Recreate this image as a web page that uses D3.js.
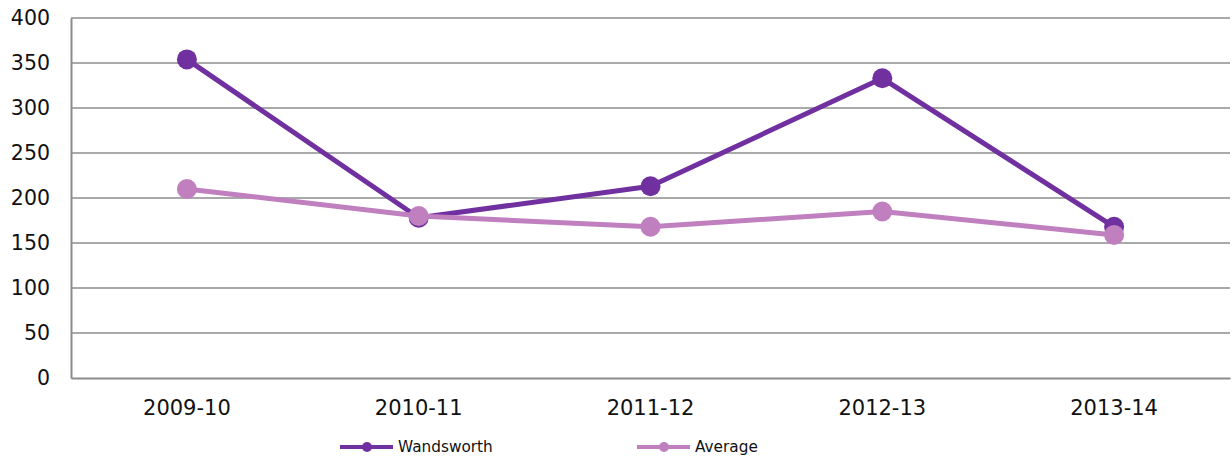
<!DOCTYPE html>
<html><head><meta charset="utf-8">
<script src="https://cdn.jsdelivr.net/npm/d3@7"></script>
<style>body{margin:0;background:#fff}svg{display:block;font-family:"DejaVu Sans",Verdana,sans-serif}</style>
</head><body><svg id="c" width="1232" height="458"></svg>
<script>
const categories = ["2009-10","2010-11","2011-12","2012-13","2013-14"];
const wandsworth = [354, 178, 213, 333, 168];
const average = [210, 180, 168, 185, 159];
const yTicks = [0,50,100,150,200,250,300,350,400];
const seriesNames = ["Wandsworth","Average"];
const colors = ["#7030a0","#c080c0"];

(function(){
const svg = d3.select("#c");
const mLeft = 71, mRight = 1230, mTop = 18, mBottom = 378;
const x = d3.scaleBand().domain(categories).range([mLeft, mRight]);
const y = d3.scaleLinear().domain([0,400]).range([mBottom, mTop]);

svg.append("g").selectAll("line").data(yTicks.filter(d=>d>0)).join("line")
  .attr("x1", mLeft).attr("x2", mRight)
  .attr("y1", d=>y(d)).attr("y2", d=>y(d))
  .attr("stroke", "#8c8c8c").attr("stroke-width", 1.5);

const ya = svg.append("g").attr("transform", `translate(${mLeft},0)`)
  .call(d3.axisLeft(y).tickValues(yTicks).tickSize(0).tickPadding(21));
ya.select(".domain").attr("stroke","#8c8c8c").attr("stroke-width",2);
ya.selectAll("text").attr("font-size", 20.5).attr("fill","#111").attr("font-family","DejaVu Sans, Verdana, sans-serif");

const xa = svg.append("g").attr("transform", `translate(0,${mBottom})`)
  .call(d3.axisBottom(x).tickSize(0).tickPadding(22));
xa.select(".domain").attr("stroke","#8c8c8c").attr("stroke-width",2);
xa.selectAll("text").attr("font-size", 21).attr("fill","#111").attr("font-family","DejaVu Sans, Verdana, sans-serif");

const data = [wandsworth, average];
const cx = (i)=>x(categories[i])+x.bandwidth()/2;
const line = d3.line().x((d,i)=>cx(i)).y(d=>y(d));
data.forEach((vals, s) => {
  const g = svg.append("g");
  g.append("path").datum(vals).attr("d", line).attr("fill","none")
    .attr("stroke", colors[s]).attr("stroke-width", 5).attr("stroke-linejoin","round");
  g.selectAll("circle").data(vals).join("circle")
    .attr("cx", (d,i)=>cx(i)).attr("cy", d=>y(d))
    .attr("r", 10).attr("fill", colors[s]);
});

const legX = [340, 637];
seriesNames.forEach((n, s) => {
  const g = svg.append("g").attr("transform", `translate(${legX[s]},447)`);
  g.append("line").attr("x1",0).attr("x2",53).attr("stroke",colors[s]).attr("stroke-width",4);
  g.append("circle").attr("cx",27).attr("r",5).attr("fill",colors[s]);
  g.append("text").attr("x",58).attr("y",0).attr("dy","0.35em").attr("font-size",15.3).attr("fill","#111").text(n);
});
})();
</script></body></html>
